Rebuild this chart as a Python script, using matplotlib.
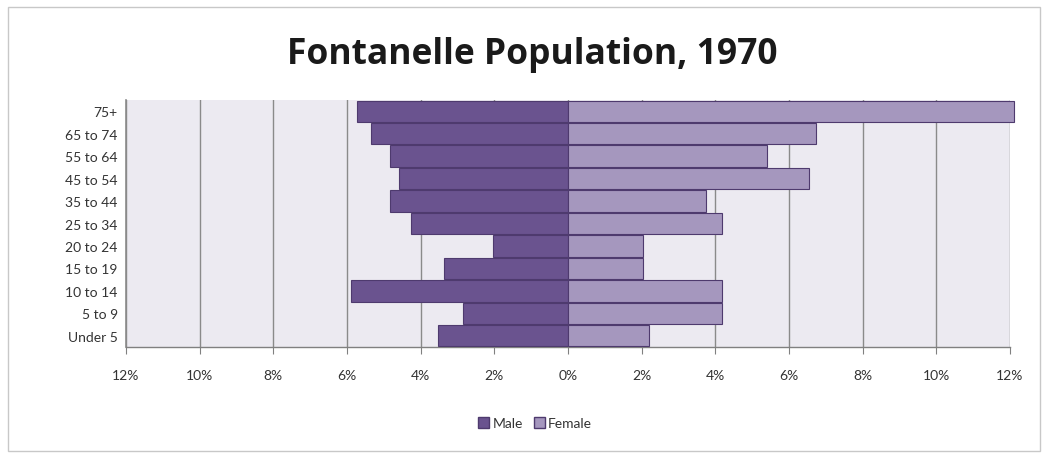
import matplotlib
matplotlib.use("Agg")
import matplotlib.pyplot as plt
from matplotlib.patches import Rectangle, Patch
import numpy as np

categories = ["Under 5", "5 to 9", "10 to 14", "15 to 19", "20 to 24", "25 to 34",
              "35 to 44", "45 to 54", "55 to 64", "65 to 74", "75+"]
male = [3.52, 2.86, 5.89, 3.36, 2.04, 4.27, 4.82, 4.58, 4.82, 5.34, 5.73]
female = [2.20, 4.17, 4.17, 2.03, 2.03, 4.17, 3.75, 6.54, 5.39, 6.72, 12.1]
xticks = [-12, -10, -8, -6, -4, -2, 0, 2, 4, 6, 8, 10, 12]
xticklabels = ["12%", "10%", "8%", "6%", "4%", "2%", "0%", "2%", "4%", "6%", "8%", "10%", "12%"]
title = "Fontanelle Population, 1970"

male_color = "#6A538F"
female_color = "#A597BE"
edge_color = "#4E3A6E"

plt.rcParams['font.family'] = ['Lato', 'DejaVu Sans']

fig = plt.figure(figsize=(10.46, 4.56), dpi=100)
fig.patch.set_facecolor("white")
fig.patches.append(Rectangle((8/1046, 4/456), 1032/1046, 444/456, transform=fig.transFigure,
                             fill=False, edgecolor="#C8C8C8", linewidth=1.0))

ax = fig.add_axes([126/1046, 1 - 348/456, (1010 - 126)/1046, (348 - 101)/456])
ax.set_facecolor("#ECEAF1")

y = np.arange(len(categories))
ax.barh(y, [-m for m in male], height=0.95, color=male_color, edgecolor=edge_color,
        linewidth=0.8, zorder=3, label="Male")
ax.barh(y, female, height=0.95, color=female_color, edgecolor=edge_color,
        linewidth=0.8, zorder=3, label="Female", clip_on=False)

ax.set_xlim(-12, 12)
ax.set_ylim(-0.5, len(categories) - 0.5)
ax.set_xticks(xticks)
ax.set_xticklabels(xticklabels, fontsize=10, color="#333333")
ax.set_yticks(y)
ax.set_yticklabels(categories, fontsize=10, color="#333333")
ax.tick_params(axis="y", length=0, pad=6)
ax.tick_params(axis="x", length=5, color="#808080", pad=11, direction="out")
ax.grid(axis="x", color="#8A8A8A", linewidth=1.0, zorder=1)
ax.axvline(-12, color="#8A8A8A", linewidth=1.2, zorder=1, clip_on=False)
for s in ["top", "right", "left"]:
    ax.spines[s].set_visible(False)
ax.spines["bottom"].set_color("#808080")
ax.spines["bottom"].set_linewidth(1.0)

fig.text(532/1046, 1 - 64/456, title, ha="center", va="baseline", fontsize=25.5,
         fontweight="bold", color="#1A1A1A", family=["Open Sans", "DejaVu Sans"])

handles = [Patch(facecolor=male_color, edgecolor=edge_color, label="Male"),
           Patch(facecolor=female_color, edgecolor=edge_color, label="Female")]
fig.legend(handles=handles, loc="center", bbox_to_anchor=(535/1046, 1 - 424/456),
           ncol=2, frameon=False, fontsize=10, handlelength=0.8, handleheight=0.8,
           handletextpad=0.2, columnspacing=0.8, labelcolor="#333333")

fig.savefig("out.png", dpi=100)
